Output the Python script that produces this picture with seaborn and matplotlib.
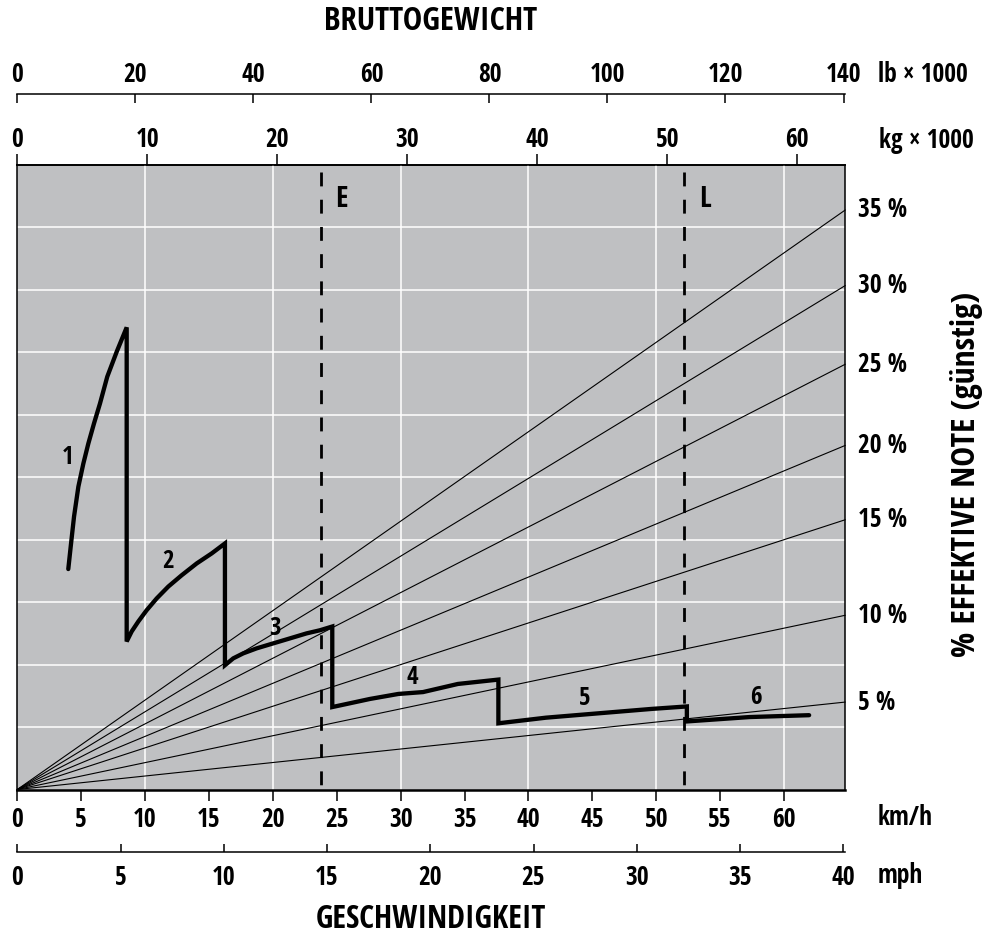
import numpy as np
import pandas as pd
import matplotlib
matplotlib.use('agg')
import matplotlib.pyplot as plt
import seaborn as sns
from matplotlib import font_manager

# scales: km/h along the bottom, kg/lb on top, mph below; 10 grid rows up
x_max = 64.8      # km/h at right edge
kg_max = 63.7     # kg x 1000 at right edge
lb_max = 140.3    # lb x 1000 at right edge
mph_max = 40.1    # mph at right edge
y_max = 10

kmh_ticks = list(range(0, 61, 5))
kg_ticks = list(range(0, 61, 10))
lb_ticks = list(range(0, 141, 20))
mph_ticks = list(range(0, 41, 5))

# traction curve per gear (km/h, rows)
gear1_x = [3.99, 4.18, 4.44, 4.78, 5.17, 5.56, 6.0, 6.47, 7.04, 7.78, 8.56]
gear1_y = [3.53, 3.89, 4.37, 4.85, 5.22, 5.54, 5.86, 6.18, 6.61, 7.01, 7.40]
gear2_x = [8.56, 8.95, 9.47, 10.12, 10.91, 11.82, 12.86, 14.04, 15.21, 16.25]
gear2_y = [2.37, 2.53, 2.69, 2.87, 3.06, 3.25, 3.43, 3.62, 3.78, 3.94]
gear3_x = [16.25, 16.9, 17.68, 18.73, 20.03, 21.34, 22.64, 23.69, 24.65]
gear3_y = [1.99, 2.10, 2.18, 2.26, 2.34, 2.42, 2.50, 2.55, 2.61]
gear4_x = [24.65, 27.6, 29.82, 31.75, 34.48, 37.65]
gear4_y = [1.32, 1.45, 1.53, 1.56, 1.69, 1.76]
gear5_x = [37.65, 41.37, 45.49, 49.62, 52.4]
gear5_y = [1.06, 1.15, 1.22, 1.29, 1.33]
gear6_x = [52.4, 57.3, 61.97]
gear6_y = [1.09, 1.16, 1.19]

gear_names = ['1', '2', '3', '4', '5', '6']
gear_label_x = [3.97, 11.82, 20.16, 30.9, 44.4, 57.8]
gear_label_y = [5.31, 3.65, 2.58, 1.80, 1.45, 1.48]

# grade lines (% effective grade), value at right edge
grade_pct = [5, 10, 15, 20, 25, 30, 35]
grade_end = [1.40, 2.79, 4.32, 5.51, 6.81, 8.07, 9.28]

# weight markers E (empty) and L (loaded)
marker_names = ['E', 'L']
marker_x = [23.76, 52.17]
marker_top = 9.88

sns.set_theme(style='white')
names = {f.name for f in font_manager.fontManager.ttflist}
cond = next((n for n in ['Open Sans Condensed', 'IBM Plex Sans Condensed', 'PT Sans Narrow']
             if n in names), 'DejaVu Sans')
plt.rcParams['font.family'] = [cond, 'DejaVu Sans']
plt.rcParams['font.stretch'] = 'condensed'
plt.rcParams['font.weight'] = 'bold'
for k in ('text.color', 'axes.labelcolor', 'xtick.color', 'ytick.color', 'axes.edgecolor'):
    plt.rcParams[k] = 'black'

FS = 18.4  # tick label size

W, H = 988, 943
fig = plt.figure(figsize=(W / 100, H / 100), dpi=100)
L, R, T, B = 17.3, 845.3, 165, 789.5
ax = fig.add_axes([L / W, 1 - B / H, (R - L) / W, (B - T) / H])
ax.set_facecolor('#bfc0c2')
ax.set_xlim(0, x_max)
ax.set_ylim(0, y_max)

# white grid
for gx in range(10, 61, 10):
    ax.axvline(gx, color='white', lw=1.1, zorder=1)
for gy in range(1, 10):
    ax.axhline(gy, color='white', lw=1.1, zorder=1)

# grade lines from origin
for g, e in zip(grade_pct, grade_end):
    ax.plot([0, x_max], [0, e], color='black', lw=0.8, zorder=2, clip_on=False)
    ax.annotate(f'{g} %', xy=(x_max, e), xytext=(9.5, 0), textcoords='offset points',
                ha='left', va='center', fontsize=FS, fontweight='bold', annotation_clip=False)

# E / L dashed markers
for name, mx in zip(marker_names, marker_x):
    ax.plot([mx, mx], [marker_top, 0], color='black', lw=2, linestyle=(0, (5, 4.8)), zorder=3)
    ax.annotate(name, xy=(mx, 9.44), xytext=(15, 0), textcoords='offset points',
                ha='center', va='center', fontsize=21, fontweight='bold')

# traction curve
curve = pd.DataFrame({
    'x': gear1_x + gear2_x + gear3_x + gear4_x + gear5_x + gear6_x,
    'y': gear1_y + gear2_y + gear3_y + gear4_y + gear5_y + gear6_y,
})
sns.lineplot(data=curve, x='x', y='y', sort=False, estimator=None, color='black',
             lw=3.1, ax=ax, zorder=4)
ax.lines[-1].set_solid_joinstyle('miter')
for n, lx, ly in zip(gear_names, gear_label_x, gear_label_y):
    ax.text(lx, ly, n, ha='center', va='center', fontsize=18, fontweight='bold', zorder=5)

# main axis styling
for s in ax.spines.values():
    s.set_color('black')
    s.set_linewidth(1.1)
ax.spines['bottom'].set_linewidth(1.8)
ax.set_xticks(kmh_ticks)
ax.set_yticks([])
ax.set_xlabel('')
ax.set_ylabel('')
ax.tick_params(axis='x', direction='out', length=8, width=1.1, pad=4, labelsize=FS,
               bottom=True, colors='black')

# kg axis (top of plot)
ax_kg = ax.secondary_xaxis('top', functions=(lambda v: v * kg_max / x_max, lambda v: v * x_max / kg_max))
ax_kg.set_xticks(kg_ticks)
ax_kg.tick_params(direction='out', length=8, width=1.1, pad=0.3, labelsize=FS)

# lb axis
lb_pos = (B - 94.3) / (B - T)
ax_lb = ax.secondary_xaxis(lb_pos, functions=(lambda v: v * lb_max / x_max, lambda v: v * x_max / lb_max))
ax_lb.set_xticks(lb_ticks)
ax_lb.tick_params(direction='in', length=6.5, width=1.1, pad=4.8, labelsize=FS)
ax_lb.spines['top'].set_linewidth(1.1)

# mph axis
mph_pos = (B - 851.7) / (B - T)
ax_mph = ax.secondary_xaxis(mph_pos, functions=(lambda v: v * mph_max / x_max, lambda v: v * x_max / mph_max))
ax_mph.set_xticks(mph_ticks)
ax_mph.tick_params(direction='in', length=5.5, width=1.1, pad=8.9, labelsize=FS)
ax_mph.spines['bottom'].set_linewidth(1.1)

for a in (ax, ax_kg, ax_lb, ax_mph):
    for lab in a.get_xticklabels():
        lab.set_fontweight('bold')

# unit labels and titles
fig.text(878 / W, 1 - 81.7 / H, 'lb × 1000', ha='left', va='baseline', fontsize=FS, fontweight='bold')
fig.text(879 / W, 1 - 148.3 / H, 'kg × 1000', ha='left', va='baseline', fontsize=FS, fontweight='bold')
fig.text(878 / W, 1 - 825 / H, 'km/h', ha='left', va='baseline', fontsize=FS, fontweight='bold')
fig.text(878 / W, 1 - 883 / H, 'mph', ha='left', va='baseline', fontsize=FS, fontweight='bold')
fig.text(431 / W, 1 - 22 / H, 'BRUTTOGEWICHT', ha='center', va='center', fontsize=23.5, fontweight='bold')
fig.text(431 / W, 1 - 919 / H, 'GESCHWINDIGKEIT', ha='center', va='center', fontsize=23, fontweight='bold')
fig.text(966 / W, 1 - 474 / H, '% EFFEKTIVE NOTE (günstig)', rotation=90, ha='center', va='center',
         fontsize=24, fontweight='bold')

fig.savefig('out.png', dpi=100, facecolor='white')
